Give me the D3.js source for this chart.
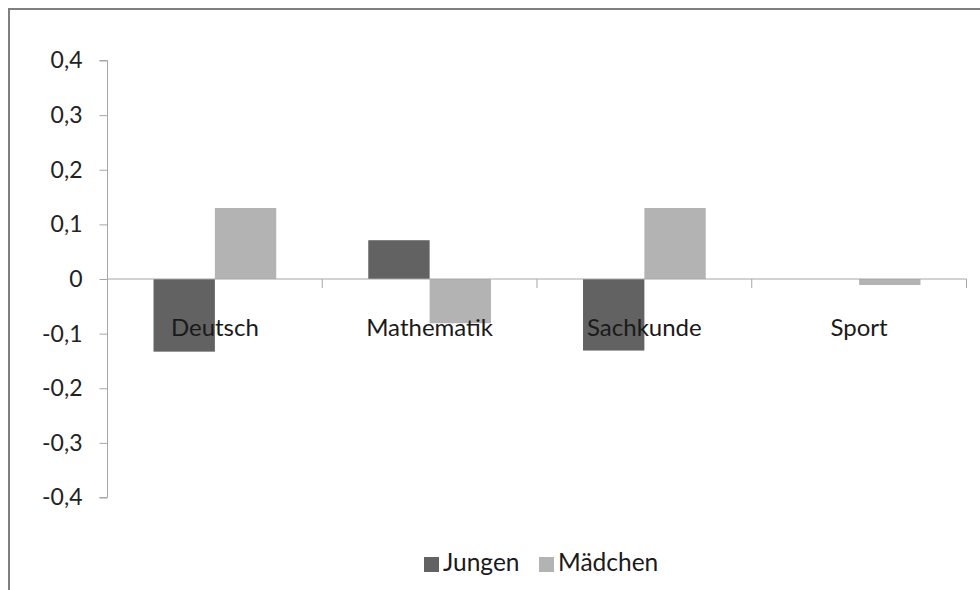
<!DOCTYPE html>
<html><head><meta charset="utf-8">
<script src="https://cdn.jsdelivr.net/npm/d3@7/dist/d3.min.js"></script>
<style>body{margin:0;background:#fff}svg{display:block}</style>
</head><body>
<script>
const categories = ["Deutsch", "Mathematik", "Sachkunde", "Sport"];
const seriesNames = ["Jungen", "Mädchen"];
const jungen = [-0.133, 0.071, -0.131, 0];
const maedchen = [0.13, -0.081, 0.13, -0.011];
const yTicks = [-0.4, -0.3, -0.2, -0.1, 0, 0.1, 0.2, 0.3, 0.4];
const tickLabels = ["-0,4", "-0,3", "-0,2", "-0,1", "0", "0,1", "0,2", "0,3", "0,4"];
const colors = ["#626262", "#b3b3b3"];

const W = 980, H = 590;
const svg = d3.select("body").append("svg").attr("width", W).attr("height", H);
const font = "Lato, 'Open Sans', sans-serif";

// outer frame
svg.append("rect").attr("x", 9).attr("y", 9).attr("width", W + 20).attr("height", H + 20)
  .attr("fill", "none").attr("stroke", "#7f7f7f").attr("stroke-width", 2);

const x0 = 107.5, x1 = 966.5;
const y = d3.scaleLinear().domain([-0.4, 0.4]).range([497.5, 60.5]);
const xb = d3.scaleBand().domain(categories).range([x0, x1]).paddingInner(0.4286).paddingOuter(0.2143);
const xs = d3.scaleBand().domain(seriesNames).range([0, xb.bandwidth()]);

// bars
const data = [jungen, maedchen];
data.forEach((vals, si) => {
  svg.append("g").selectAll("rect").data(vals).join("rect")
    .attr("x", (d, i) => xb(categories[i]) + xs(seriesNames[si]))
    .attr("width", xs.bandwidth())
    .attr("y", d => y(Math.max(0, d)))
    .attr("height", d => Math.abs(y(d) - y(0)))
    .attr("fill", colors[si]);
});

// y axis
const yAxis = d3.axisLeft(y).tickValues(yTicks).tickSize(8).tickFormat((d, i) => tickLabels[i]).tickPadding(17);
const gy = svg.append("g").attr("transform", `translate(${x0},0)`).call(yAxis);
gy.select(".domain").attr("stroke", "#a6a6a6").attr("d", `M-8,${y(0.4)}H0V${y(-0.4)}H-8`);
gy.selectAll(".tick line").attr("stroke", "#a6a6a6");
gy.selectAll(".tick text").attr("font-family", font).attr("font-size", 23).attr("fill", "#222");

// x axis (zero line) with category boundary ticks
const bounds = d3.range(categories.length + 1).map(i => x0 + i * (x1 - x0) / categories.length);
svg.append("line").attr("x1", x0).attr("x2", x1).attr("y1", y(0)).attr("y2", y(0))
  .attr("stroke", "#a6a6a6").attr("stroke-width", 1);
svg.append("g").selectAll("line").data(bounds.slice(1)).join("line")
  .attr("x1", d => d).attr("x2", d => d).attr("y1", y(0)).attr("y2", y(0) + 9)
  .attr("stroke", "#a6a6a6");

// category labels
svg.append("g").selectAll("text").data(categories).join("text")
  .attr("x", d => xb(d) + xb.bandwidth() / 2)
  .attr("y", 336)
  .attr("text-anchor", "middle")
  .attr("font-family", font).attr("font-size", 24).attr("fill", "#1a1a1a")
  .text(d => d);

// legend
const legX = [424, 539];
const leg = svg.append("g");
seriesNames.forEach((n, i) => {
  leg.append("rect").attr("x", legX[i]).attr("y", 557).attr("width", 15).attr("height", 15).attr("fill", colors[i]);
  leg.append("text").attr("x", legX[i] + 19).attr("y", 571)
    .attr("font-family", font).attr("font-size", 24.5).attr("fill", "#1a1a1a").text(n);
});
</script>
</body></html>
